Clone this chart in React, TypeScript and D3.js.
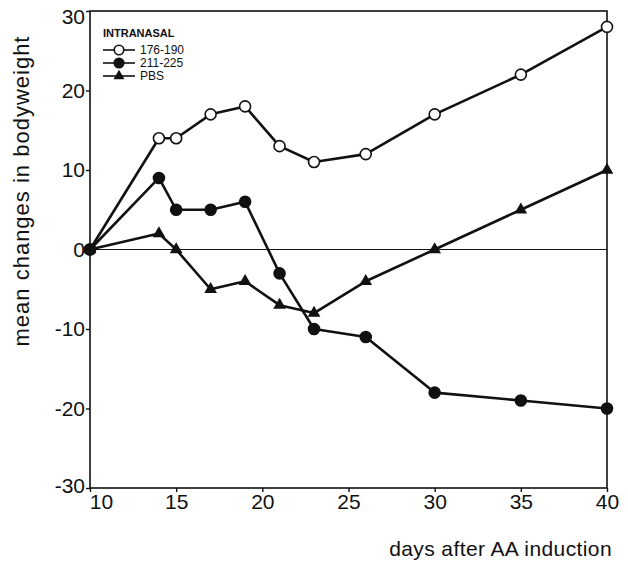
import React, { useEffect, useRef } from "react";
import * as d3 from "d3";

// days after induction
const days = [10, 14, 15, 17, 19, 21, 23, 26, 30, 35, 40];
const series176 = [0, 14, 14, 17, 18, 13, 11, 12, 17, 22, 28];
const series211 = [0, 9, 5, 5, 6, -3, -10, -11, -18, -19, -20];
const seriesPBS = [0, 2, 0, -5, -4, -7, -8, -4, 0, 5, 10];
const xTicks = [10, 15, 20, 25, 30, 35, 40];
const yTicks = [-30, -20, -10, 0, 10, 20, 30];
const legendTitle = "INTRANASAL";
const legendLabels = ["176-190", "211-225", "PBS"];

export default function App() {
  const ref = useRef<SVGSVGElement>(null);

  useEffect(() => {
    const W = 628;
    const H = 574;
    const margin = { top: 11, right: 21, bottom: 86, left: 90 };
    const font = "'Liberation Sans', Arial, sans-serif";

    const svg = d3.select(ref.current);
    svg.selectAll("*").remove();

    const x = d3.scaleLinear().domain([10, 40]).range([margin.left, W - margin.right]);
    const y = d3.scaleLinear().domain([-30, 30]).range([H - margin.bottom, margin.top]);

    // frame
    svg
      .append("rect")
      .attr("x", x(10))
      .attr("y", y(30))
      .attr("width", x(40) - x(10))
      .attr("height", y(-30) - y(30))
      .attr("fill", "none")
      .attr("stroke", "#111")
      .attr("stroke-width", 1.6);

    // zero line
    svg
      .append("line")
      .attr("x1", x(10))
      .attr("x2", x(40))
      .attr("y1", y(0))
      .attr("y2", y(0))
      .attr("stroke", "#111")
      .attr("stroke-width", 1);

    // axes
    const gx = svg
      .append("g")
      .attr("transform", `translate(0,${y(-30)})`)
      .call(
        d3
          .axisBottom(x)
          .tickValues(xTicks)
          .tickFormat((d) => String(d))
          .tickSize(4)
          .tickSizeOuter(0)
          .tickPadding(2)
      );
    gx.select(".domain").remove();
    gx.selectAll("line").attr("stroke", "#111").attr("stroke-width", 1.4);
    gx.selectAll("text")
      .attr("font-family", font)
      .attr("font-size", 21)
      .attr("fill", "#111")
      .attr("dx", (d: any) => (d === 10 ? 11 : 0));

    const gy = svg
      .append("g")
      .attr("transform", `translate(${x(10)},0)`)
      .call(
        d3
          .axisLeft(y)
          .tickValues(yTicks)
          .tickFormat((d) => String(d))
          .tickSize(4)
          .tickSizeOuter(0)
          .tickPadding(1)
      );
    gy.select(".domain").remove();
    gy.selectAll("line").attr("stroke", "#111").attr("stroke-width", 1.4);
    gy.selectAll("text")
      .attr("font-family", font)
      .attr("font-size", 21)
      .attr("fill", "#111")
      .attr("dy", (d: any) => (d === 30 ? "0.6em" : d === -30 ? "0.2em" : "0.32em"));

    // axis titles
    svg
      .append("text")
      .attr("x", W - 16)
      .attr("y", 556)
      .attr("text-anchor", "end")
      .attr("font-family", font)
      .attr("font-size", 21)
      .attr("letter-spacing", 0.4)
      .attr("fill", "#111")
      .text("days after AA induction");

    svg
      .append("text")
      .attr("transform", `translate(29,191) rotate(-90)`)
      .attr("text-anchor", "middle")
      .attr("font-family", font)
      .attr("font-size", 22)
      .attr("letter-spacing", 1)
      .attr("fill", "#111")
      .text("mean changes in bodyweight");

    const line = d3
      .line<number>()
      .x((_, i) => x(days[i]))
      .y((d) => y(d));

    const allSeries = [series176, seriesPBS, series211];
    const kinds = ["open", "tri", "fill"];

    const drawMarker = (g: any, kind: string, cx: number, cy: number, s = 1) => {
      if (kind === "tri") {
        const tri = d3.symbol().type(d3.symbolTriangle).size(70 * s);
        g.append("path")
          .attr("d", tri())
          .attr("transform", `translate(${cx},${cy})`)
          .attr("fill", "#111");
      } else {
        g.append("circle")
          .attr("cx", cx)
          .attr("cy", cy)
          .attr("r", 5.5 * Math.sqrt(s))
          .attr("fill", kind === "fill" ? "#111" : "#fff")
          .attr("stroke", "#111")
          .attr("stroke-width", 1.6);
      }
    };

    allSeries.forEach((vals) => {
      svg
        .append("path")
        .attr("d", line(vals))
        .attr("fill", "none")
        .attr("stroke", "#111")
        .attr("stroke-width", 2.6)
        .attr("stroke-linejoin", "round");
    });
    allSeries.forEach((vals, k) => {
      const g = svg.append("g");
      vals.forEach((v, i) => drawMarker(g, kinds[k], x(days[i]), y(v)));
    });

    // legend
    const lg = svg.append("g");
    lg.append("text")
      .attr("x", 103)
      .attr("y", 37)
      .attr("font-family", font)
      .attr("font-size", 11)
      .attr("font-weight", "bold")
      .attr("fill", "#111")
      .text(legendTitle);
    const legendKinds = ["open", "fill", "tri"];
    legendLabels.forEach((lab, i) => {
      const ly = 50 + i * 13;
      lg.append("line")
        .attr("x1", 103)
        .attr("x2", 135)
        .attr("y1", ly)
        .attr("y2", ly)
        .attr("stroke", "#111")
        .attr("stroke-width", 1.6);
      drawMarker(lg, legendKinds[i], 119, ly, 0.75);
      lg.append("text")
        .attr("x", 140)
        .attr("y", ly + 4)
        .attr("font-family", font)
        .attr("font-size", 12)
        .attr("fill", "#111")
        .text(lab);
    });
  }, []);

  return (
    <svg
      ref={ref}
      width={628}
      height={574}
      style={{ position: "absolute", left: 0, top: 0, background: "#fff" }}
    />
  );
}
